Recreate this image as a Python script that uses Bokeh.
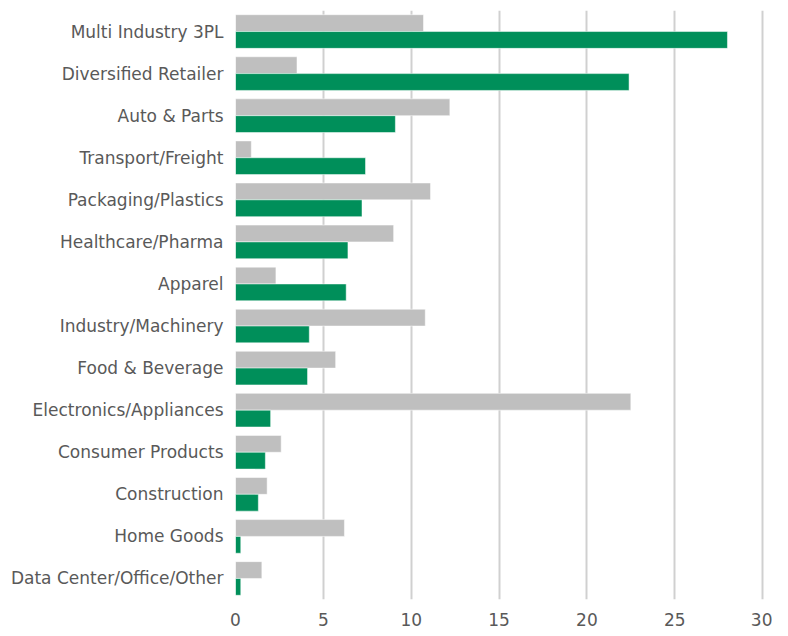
from bokeh.plotting import figure
from bokeh.models import ColumnDataSource, FactorRange, Range1d
from bokeh.transform import dodge
from bokeh.embed import file_html
from bokeh.resources import INLINE

categories = ["Multi Industry 3PL", "Diversified Retailer", "Auto & Parts", "Transport/Freight",
              "Packaging/Plastics", "Healthcare/Pharma", "Apparel", "Industry/Machinery",
              "Food & Beverage", "Electronics/Appliances", "Consumer Products", "Construction",
              "Home Goods", "Data Center/Office/Other"]
grey_values = [10.7, 3.5, 12.2, 0.9, 11.1, 9.0, 2.3, 10.8, 5.7, 22.5, 2.6, 1.8, 6.2, 1.5]
green_values = [28.0, 22.4, 9.1, 7.4, 7.2, 6.4, 6.3, 4.2, 4.1, 2.0, 1.7, 1.3, 0.3, 0.3]
x_ticks = [0, 5, 10, 15, 20, 25, 30]

src = ColumnDataSource(dict(cat=categories, grey=grey_values, green=green_values))

p = figure(width=772, height=632, output_backend="svg", toolbar_location=None,
           y_range=FactorRange(factors=list(reversed(categories)), range_padding=0),
           x_range=Range1d(0, 30.45),
           min_border_left=235, min_border_right=2, min_border_top=10, min_border_bottom=33)

p.hbar(y=dodge("cat", 0.2, range=p.y_range), right="grey", left=0, height=0.4,
       source=src, fill_color="#bfbfbf", line_color="white", line_width=0.5)
p.hbar(y=dodge("cat", -0.2, range=p.y_range), right="green", left=0, height=0.4,
       source=src, fill_color="#008f5a", line_color="white", line_width=0.5)

p.outline_line_color = None
p.ygrid.grid_line_color = None
p.xgrid.grid_line_color = "#d0d0d0"
p.xgrid.grid_line_width = 2
p.xaxis.ticker = x_ticks
p.xaxis.axis_line_color = None
p.xaxis.major_tick_line_color = None
p.xaxis.minor_tick_line_color = None
p.xaxis.major_label_standoff = 7
p.yaxis.axis_line_color = None
p.yaxis.major_tick_line_color = None
p.yaxis.minor_tick_line_color = None
p.yaxis.major_label_standoff = 6
for ax in (p.xaxis, p.yaxis):
    ax.major_label_text_font = "DejaVu Sans"
    ax.major_label_text_font_size = "17px"
    ax.major_label_text_color = "#595959"

open("out.html", "w").write(file_html(p, INLINE))
